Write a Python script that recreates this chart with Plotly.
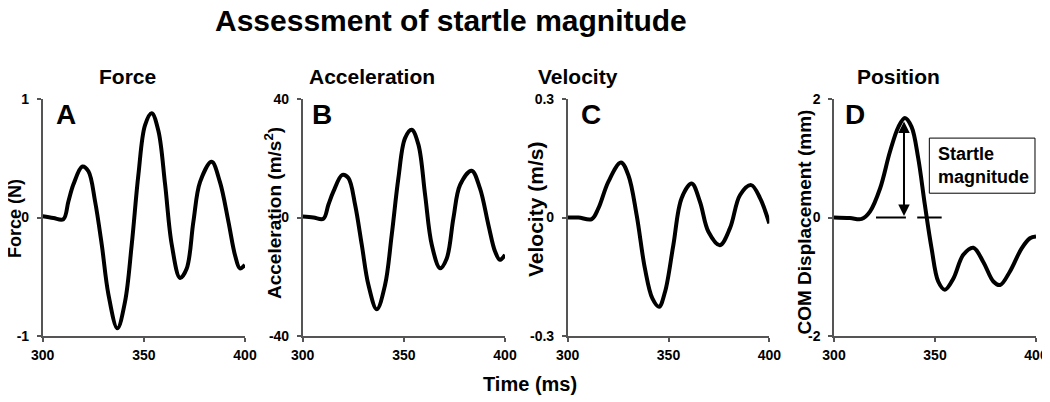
import plotly.graph_objects as go
from plotly.subplots import make_subplots

W, H = 1050, 402
PAGE_OFFSET = 8  # the page body margin shifts the figure by this many pixels
FONT = "Liberation Sans, Arial, sans-serif"

# Force (N)
force_t = [300, 305.3, 310.2, 312.7, 315.2, 319.6, 322.6, 325.9, 329.2, 332.5, 336.9, 340.7,
           344.0, 347.3, 350.6, 353.9, 357.2, 360.5, 363.8, 367.9, 371.2, 374.5, 377.8,
           383.5, 387.6, 391.8, 395.1, 397.5, 400]
force_v = [0.01, -0.005, -0.015, 0.135, 0.28, 0.43, 0.39, 0.135, -0.23, -0.65, -0.935, -0.71,
           -0.23, 0.36, 0.78, 0.88, 0.73, 0.28, -0.23, -0.51, -0.43, -0.034, 0.30,
           0.47, 0.30, -0.034, -0.32, -0.43, -0.40]

# Acceleration (m/s^2)
accel_t = [300, 305.3, 310.2, 312.7, 315.2, 319.6, 322.6, 325.9, 329.2, 332.5, 336.6, 340.7,
           344.0, 347.3, 350.6, 353.9, 357.2, 360.5, 363.8, 367.9, 371.2, 374.5, 377.8,
           383.5, 387.6, 391.8, 395.1, 397.5, 400]
accel_v = [0.3, 0.0, -0.45, 4.3, 8.8, 14.4, 13.3, 4.3, -9.2, -22.8, -31.0, -22.8,
           -5.9, 13.3, 26.8, 29.6, 24.6, 7.7, -9.2, -17.1, -13.8, -0.2, 11.0,
           15.8, 9.9, -2.5, -11.5, -14.3, -12.6]

# Velocity (m/s)
vel_t = [300, 305.3, 311.9, 315.2, 320.2, 326.4, 330.1, 334.2, 338.3, 342.0, 345.3, 348.3,
         352.4, 356.5, 361.5, 365.6, 369.8, 375.5, 380.5, 385.5, 391.0, 395.4, 400]
vel_v = [0.0, 0.0, -0.004, 0.023, 0.091, 0.139, 0.107, 0.006, -0.129, -0.205, -0.226, -0.188,
         -0.07, 0.049, 0.086, 0.04, -0.036, -0.07, -0.027, 0.057, 0.082, 0.049, -0.015]

# COM displacement (mm)
pos_t = [300, 307.9, 313.7, 317.8, 322.8, 327.7, 331.9, 335.1, 338.4, 341.7, 345.0, 348.3,
         351.6, 354.9, 359.1, 364.0, 369.0, 373.9, 378.9, 382.2, 387.1, 392.9, 397.0, 400]
pos_v = [0.0, -0.01, -0.025, 0.1, 0.49, 1.11, 1.53, 1.68, 1.53, 1.0, 0.21, -0.52,
         -1.08, -1.22, -1.03, -0.63, -0.51, -0.75, -1.08, -1.14, -0.91, -0.52, -0.35, -0.32]

panel_titles = ["Force", "Acceleration", "Velocity", "Position"]
panel_letters = ["A", "B", "C", "D"]
y_titles = ["Force (N)", "Acceleration (m/s<sup>2</sup>)", "Velocity (m/s)", "COM Displacement (mm)"]
y_limits = [1, 40, 0.3, 2]
y_ticktext = [["-1", "0", "1"], ["-40", "0", "40"], ["-0.3", "0", "0.3"], ["-2", "0", "2"]]
x_ticks = [300, 350, 400]

# startle magnitude markers in panel D
startle_t = 334.65
startle_peak = 1.62
baseline_segments = [(320.8, 335.6), (341.2, 353.3)]

# layout in screen pixels
x_left = [42.7, 302.7, 567.7, 834.0]
x_right = [245.0, 505.0, 769.3, 1036.0]
y_top, y_bot = 99, 336
title_x = [127, 372, 578, 898]
letter_x = [66, 322, 591, 855]
ytitle_x = [15, 273, 535, 803.5]
ytitle_y = [219, 213, 210, 222]
ytitle_size = [18, 19, 21, 19]


def px(x):
    return (x - PAGE_OFFSET) / W


def py(y):
    return 1 - (y - PAGE_OFFSET) / H


def paper_text(text, x, y, size, angle=0):
    fig.add_annotation(text=text, x=px(x), y=py(y), xref="paper", yref="paper",
                       xanchor="center", yanchor="middle", textangle=angle, showarrow=False,
                       font=dict(family=FONT, size=size, color="black", weight="bold"))


fig = make_subplots(rows=1, cols=4)
series = [(force_t, force_v), (accel_t, accel_v), (vel_t, vel_v), (pos_t, pos_v)]

for i, (t, v) in enumerate(series):
    fig.add_trace(
        go.Scatter(x=t, y=v, mode="lines", line=dict(color="black", width=4, shape="spline", smoothing=1.0),
                   showlegend=False, hoverinfo="skip"),
        row=1, col=i + 1,
    )
    lim = y_limits[i]
    sfx = "" if i == 0 else str(i + 1)
    axis_common = dict(
        showline=True, linecolor="#555", linewidth=1.5, ticks="outside", ticklen=4,
        tickcolor="#555", tickwidth=1.5, showgrid=False, zeroline=False, automargin=False,
        tickfont=dict(family=FONT, size=14, color="black", weight="bold"),
    )
    fig.layout["xaxis" + sfx].update(
        domain=[px(x_left[i]), px(x_right[i])], range=[300, 400],
        tickvals=x_ticks, ticktext=[str(v) for v in x_ticks], ticklabelstandoff=1, **axis_common,
    )
    fig.layout["yaxis" + sfx].update(
        domain=[py(y_bot), py(y_top)], range=[-lim, lim],
        tickvals=[-lim, 0, lim], ticktext=y_ticktext[i], ticklabelstandoff=5, **axis_common,
    )

    paper_text(panel_titles[i], title_x[i], 76.5, 21)
    paper_text(panel_letters[i], letter_x[i], 114, 28)
    paper_text(y_titles[i], ytitle_x[i], ytitle_y[i], ytitle_size[i], angle=-90)

# baseline dashes and the startle-magnitude arrow
for x0, x1 in baseline_segments:
    fig.add_shape(type="line", x0=x0, x1=x1, y0=0, y1=0, xref="x4", yref="y4",
                  line=dict(color="black", width=2))

fig.add_annotation(x=startle_t, y=startle_peak, ax=startle_t, ay=0, xref="x4", yref="y4",
                   axref="x4", ayref="y4", text="", showarrow=True, arrowhead=2, arrowside="end+start",
                   arrowsize=1.15, arrowwidth=2, arrowcolor="black", standoff=0, startstandoff=0)

fig.add_shape(type="rect", x0=347.2, x1=399.5, y0=0.41, y1=1.34, xref="x4", yref="y4",
              line=dict(color="black", width=1), fillcolor="white")
fig.add_annotation(text="Startle<br>magnitude", x=350.3, y=0.875, xref="x4", yref="y4",
                   xanchor="left", yanchor="middle", align="left", showarrow=False,
                   font=dict(family=FONT, size=18, color="black", weight="bold"))

paper_text("Assessment of startle magnitude", 451, 20.5, 30)
paper_text("Time (ms)", 530, 384, 20)

fig.update_layout(
    width=W, height=H, margin=dict(l=0, r=0, t=0, b=0, autoexpand=False),
    paper_bgcolor="white", plot_bgcolor="white",
    font=dict(family=FONT, color="black"),
)

fig.write_html("out.html")
